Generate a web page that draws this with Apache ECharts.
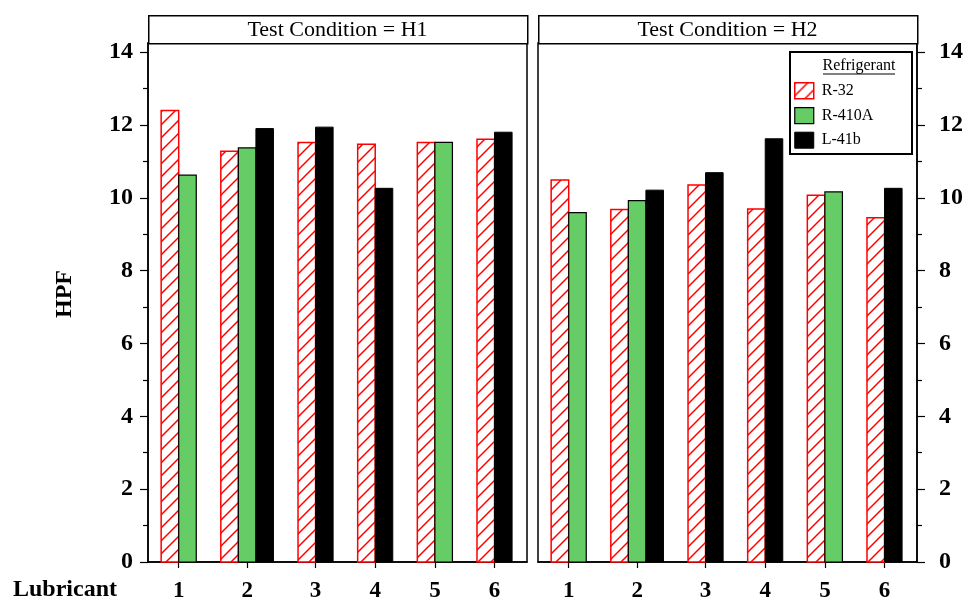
<!DOCTYPE html>
<html>
<head>
<meta charset="utf-8">
<title>HPF by lubricant and refrigerant</title>
<script src="https://cdn.jsdelivr.net/npm/echarts@6/dist/echarts.min.js"></script>
<style>
  html, body { margin: 0; padding: 0; background: #fff; }
  #chart { width: 964px; height: 601px; }
</style>
</head>
<body>
<div id="chart"></div>
<script>
// ---- data ----
const lubricants = ['1', '2', '3', '4', '5', '6'];
const refrigerants = ['R-32', 'R-410A', 'L-41b'];
const conditionTitles = ['Test Condition = H1', 'Test Condition = H2'];

// HPF per lubricant; null where that refrigerant/lubricant pair was not tested
const h1R32   = [12.40, 11.28, 11.52, 11.47, 11.52, 11.61];
const h1R410A = [10.62, 11.37, null, null, 11.52, null];
const h1L41b  = [null, 11.90, 11.94, 10.26, null, 11.80];

const h2R32   = [10.49, 9.68, 10.35, 9.69, 10.07, 9.45];
const h2R410A = [9.59, 9.92, null, null, 10.16, null];
const h2L41b  = [null, 10.21, 10.69, 11.62, null, 10.26];

const yTicks = [0, 2, 4, 6, 8, 10, 12, 14];
const yMinorTicks = [1, 3, 5, 7, 9, 11, 13];

// ---- styling ----
const SERIF = "'Liberation Serif', 'Times New Roman', serif";
const GREEN = '#66cc66';

// diagonal red hatch used for R-32
function makeHatch() {
  const s = 13;
  const c = document.createElement('canvas');
  c.width = s; c.height = s;
  const g = c.getContext('2d');
  g.fillStyle = '#fff';
  g.fillRect(0, 0, s, s);
  g.strokeStyle = '#ff0000';
  g.lineWidth = 1.5;
  g.beginPath();
  g.moveTo(-2, s + 2); g.lineTo(s + 2, -2);
  g.moveTo(-2, 2); g.lineTo(2, -2);
  g.moveTo(s - 2, s + 2); g.lineTo(s + 2, s - 2);
  g.stroke();
  return { image: c, repeat: 'repeat' };
}
const hatch = makeHatch();

const barStyles = [
  { fill: hatch, stroke: '#ff0000', lineWidth: 1.5 },
  { fill: GREEN, stroke: '#000', lineWidth: 1.2 },
  { fill: '#000', stroke: '#000', lineWidth: 1 }
];

// ---- bar layout in bar-width units: present bars packed and centred per lubricant ----
const EDGE_L = 0.75, EDGE_R = 0.85, GAP = 1.4;
function layoutGroups(cols) {
  const groups = [];
  let cursor = EDGE_L;
  lubricants.forEach((lab, i) => {
    const present = [];
    cols.forEach((c, s) => { if (c[i] != null) present.push(s); });
    groups.push({ start: cursor, center: cursor + present.length / 2, present });
    cursor += present.length + GAP;
  });
  return { groups, extent: cursor - GAP + EDGE_R };
}

const panels = [
  { cols: [h1R32, h1R410A, h1L41b], left: 148, right: 527 },
  { cols: [h2R32, h2R410A, h2L41b], left: 538, right: 917 }
];
const GRID_TOP = 43, GRID_BOTTOM = 562, HEADER_TOP = 15;
const Y_MAX = 14.25;

const grids = [], xAxes = [], yAxes = [], series = [], graphics = [];

panels.forEach((p, pi) => {
  const lay = layoutGroups(p.cols);
  const centers = lay.groups.map(g => g.center);
  const side = pi === 0 ? 'left' : 'right';
  const geom = {
    left: p.left, top: GRID_TOP, width: p.right - p.left, height: GRID_BOTTOM - GRID_TOP,
    outerBoundsMode: 'none', containLabel: false
  };

  // main panel grid
  grids.push(Object.assign({ show: true, borderColor: '#000', borderWidth: 1.5, backgroundColor: '#fff' }, geom));
  const gMain = grids.length - 1;
  xAxes.push({
    type: 'value', gridIndex: gMain, min: 0, max: lay.extent,
    axisLine: { show: true, onZero: false, lineStyle: { color: '#000', width: 1.5 } },
    axisTick: { show: true, inside: false, length: 6, customValues: centers, lineStyle: { color: '#000', width: 1.2 } },
    axisLabel: {
      show: true, customValues: centers, margin: 18,
      fontFamily: SERIF, fontWeight: 'bold', fontSize: 23, color: '#000',
      formatter: v => {
        let best = 0;
        centers.forEach((c, i) => { if (Math.abs(c - v) < Math.abs(centers[best] - v)) best = i; });
        return lubricants[best];
      }
    },
    splitLine: { show: false }
  });
  const xMain = xAxes.length - 1;
  yAxes.push({
    type: 'value', gridIndex: gMain, position: side, min: 0, max: Y_MAX,
    axisLine: { show: true, onZero: false, lineStyle: { color: '#000', width: 1.5 } },
    axisTick: { show: true, inside: false, length: 8, customValues: yTicks, lineStyle: { color: '#000', width: 1.2 } },
    axisLabel: {
      show: true, customValues: yTicks, margin: pi === 0 ? 15 : 22,
      fontFamily: SERIF, fontWeight: 'bold', fontSize: 24, color: '#000'
    },
    splitLine: { show: false }
  });
  const yMain = yAxes.length - 1;

  // overlay grid carrying only the shorter odd-value ticks
  grids.push(Object.assign({ show: false }, geom));
  const gMinor = grids.length - 1;
  xAxes.push({ type: 'value', gridIndex: gMinor, min: 0, max: lay.extent, show: false });
  yAxes.push({
    type: 'value', gridIndex: gMinor, position: side, min: 0, max: Y_MAX,
    axisLine: { show: false, onZero: false },
    axisTick: { show: true, inside: false, length: 5, customValues: yMinorTicks, lineStyle: { color: '#000', width: 1.2 } },
    axisLabel: { show: false },
    splitLine: { show: false }
  });

  p.cols.forEach((col, s) => {
    const data = [];
    lay.groups.forEach((g, i) => {
      const k = g.present.indexOf(s);
      if (k >= 0) data.push([g.start + k, col[i]]);
    });
    const st = barStyles[s];
    series.push({
      type: 'custom', name: refrigerants[s],
      xAxisIndex: xMain, yAxisIndex: yMain,
      itemStyle: { color: st.fill, borderColor: st.stroke, borderWidth: st.lineWidth },
      encode: { x: 0, y: 1 },
      data,
      renderItem: (params, api) => {
        const x0 = api.value(0), v = api.value(1);
        const a = api.coord([x0, v]);
        const b = api.coord([x0 + 1, 0]);
        return {
          type: 'rect',
          shape: { x: a[0], y: a[1], width: b[0] - a[0], height: b[1] - a[1] },
          style: { fill: st.fill, stroke: st.stroke, lineWidth: st.lineWidth }
        };
      }
    });
  });

  // panel header strip
  graphics.push({
    type: 'rect', left: p.left, top: HEADER_TOP, z: 10,
    shape: { width: p.right - p.left, height: GRID_TOP - HEADER_TOP },
    style: { fill: '#fff', stroke: '#000', lineWidth: 1.5 }
  });
  graphics.push({
    type: 'text', x: (p.left + p.right) / 2, y: (HEADER_TOP + GRID_TOP) / 2 + 1, z: 11,
    style: {
      text: conditionTitles[pi], fill: '#000',
      font: '22px ' + SERIF, align: 'center', verticalAlign: 'middle'
    }
  });
});

// legend frame and heading
graphics.push({
  type: 'rect', left: 789, top: 51, z: 10,
  shape: { width: 122, height: 102 },
  style: { fill: '#fff', stroke: '#000', lineWidth: 2 }
});
graphics.push({
  type: 'text', x: 859, y: 66, z: 11,
  style: { text: 'Refrigerant', fill: '#000', font: '16px ' + SERIF, align: 'center', verticalAlign: 'middle' }
});
graphics.push({
  type: 'line', z: 11,
  shape: { x1: 823, y1: 74, x2: 895, y2: 74 },
  style: { stroke: '#000', lineWidth: 1 }
});
// axis titles
graphics.push({
  type: 'text', x: 13, y: 590, z: 11,
  style: { text: 'Lubricant', fill: '#000', font: 'bold 24px ' + SERIF, align: 'left', verticalAlign: 'middle' }
});
graphics.push({
  type: 'text', x: 65, y: 294, rotation: Math.PI / 2, z: 11,
  style: { text: 'HPF', fill: '#000', font: 'bold 24px ' + SERIF, align: 'center', verticalAlign: 'middle' }
});

const chart = echarts.init(document.getElementById('chart'), null, { renderer: 'canvas' });
chart.setOption({
  animation: false,
  backgroundColor: '#fff',
  grid: grids,
  xAxis: xAxes,
  yAxis: yAxes,
  series,
  legend: {
    orient: 'vertical', left: 794, top: 82, z: 12, padding: 0,
    icon: 'rect', itemWidth: 19, itemHeight: 16, itemGap: 7.5,
    textStyle: { fontFamily: SERIF, fontSize: 16, color: '#000', padding: [0, 0, 0, 3] },
    selectedMode: false,
    data: refrigerants.map((name, s) => ({
      name,
      itemStyle: { color: barStyles[s].fill, borderColor: barStyles[s].stroke, borderWidth: barStyles[s].lineWidth }
    }))
  },
  graphic: graphics
});
</script>
</body>
</html>
